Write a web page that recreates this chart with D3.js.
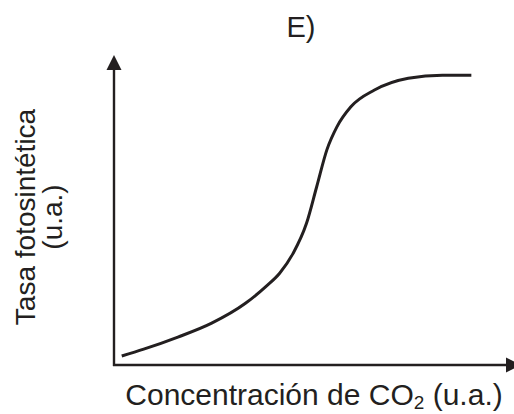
<!DOCTYPE html>
<html>
<head>
<meta charset="utf-8">
<script src="https://cdn.jsdelivr.net/npm/d3@7"></script>
<style>
  body { margin: 0; background: #fff; }
  text { font-family: "Liberation Sans", Arial, sans-serif; fill: #231f20; }
</style>
</head>
<body>
<svg id="chart" width="514" height="414"></svg>
<script>
// curve, arbitrary units (0-100 on both axes)
const co2 = [1.9, 7.3, 15.7, 24.0, 32.3, 37.3, 40.7, 44.0, 47.3, 49.8, 52.3, 54.8, 58.2, 64.0, 72.3, 80.7, 87.8];
const rate = [2.9, 5.1, 9.0, 13.5, 19.9, 25.3, 29.6, 36.0, 45.7, 57.5, 69.4, 76.9, 83.3, 88.7, 92.5, 93.5, 93.5];
const title = "E)";
const yLabel = ["Tasa fotosintética", "(u.a.)"];

const svg = d3.select("#chart");
const margin = { top: 55, bottom: 49, left: 114, right: -7 };
const width = +svg.attr("width");
const height = +svg.attr("height");
const ink = "#231f20";

const x = d3.scaleLinear().domain([0, 100]).range([margin.left, width - margin.right]);
const y = d3.scaleLinear().domain([0, 100]).range([height - margin.bottom, margin.top]);

const x0 = x(0), y0 = y(0), xEnd = x(100), yEnd = y(100);
const head = 15;

// axes with arrow heads
svg.append("line")
  .attr("x1", x0).attr("y1", y0 + 1)
  .attr("x2", x0).attr("y2", yEnd + head)
  .attr("stroke", ink).attr("stroke-width", 2.4);
svg.append("path")
  .attr("d", `M${x0},${yEnd}L${x0 - head / 2},${yEnd + head}L${x0 + head / 2},${yEnd + head}Z`)
  .attr("fill", ink);

svg.append("line")
  .attr("x1", x0 - 1).attr("y1", y0)
  .attr("x2", xEnd - head).attr("y2", y0)
  .attr("stroke", ink).attr("stroke-width", 2.4);
svg.append("path")
  .attr("d", `M${xEnd},${y0}L${xEnd - head},${y0 - head / 2}L${xEnd - head},${y0 + head / 2}Z`)
  .attr("fill", ink);

// curve
const pts = co2.map((c, i) => [c, rate[i]]);
svg.append("path")
  .datum(pts)
  .attr("fill", "none")
  .attr("stroke", ink)
  .attr("stroke-width", 3)
  .attr("d", d3.line()
    .curve(d3.curveMonotoneX)
    .x((d) => x(d[0]))
    .y((d) => y(d[1])));

// labels
svg.append("text")
  .attr("x", 301).attr("y", 37)
  .attr("text-anchor", "middle")
  .style("font-size", "29px")
  .text(title);

const xl = svg.append("text")
  .attr("x", 314).attr("y", 405)
  .attr("text-anchor", "middle")
  .style("font-size", "30px");
xl.append("tspan").text("Concentración de CO");
xl.append("tspan").attr("dy", 4).style("font-size", "19px").text("2");
xl.append("tspan").attr("dy", -4).text(" (u.a.)");

const yl = svg.append("text")
  .attr("transform", "translate(35,217) rotate(-90)")
  .attr("text-anchor", "middle")
  .style("font-size", "28px");
yl.selectAll("tspan")
  .data(yLabel)
  .enter()
  .append("tspan")
  .attr("x", 0)
  .attr("dy", (d, i) => (i === 0 ? 0 : 27))
  .text((d) => d);
</script>
</body>
</html>
